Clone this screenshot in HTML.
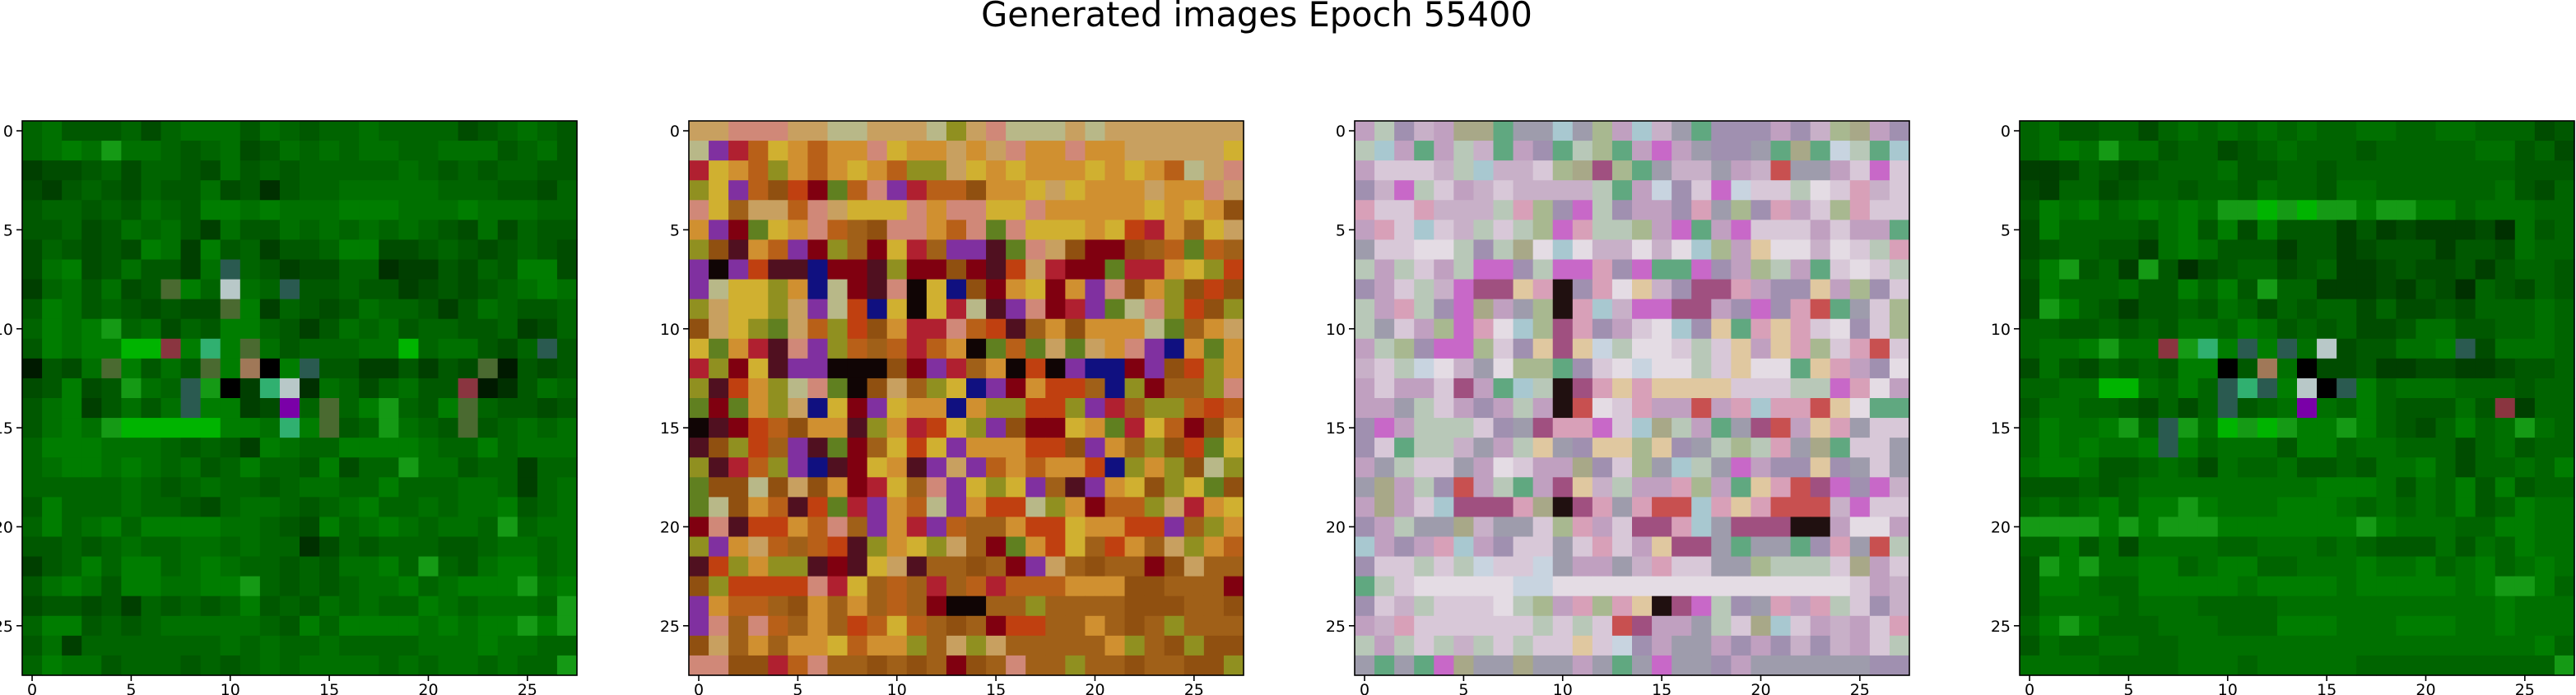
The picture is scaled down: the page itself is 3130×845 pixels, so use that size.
<!DOCTYPE html>
<html><head><meta charset="utf-8">
<style>
html,body{margin:0;padding:0;background:#fff;}
svg{display:block;}
text{font-family:"DejaVu Sans","Liberation Sans",sans-serif;}
</style></head>
<body>
<svg id="fig" width="3130" height="845" viewBox="0 0 3130 845" xmlns="http://www.w3.org/2000/svg">
<rect width="3130" height="845" fill="#fff"/>
<text x="1527" y="32" text-anchor="middle" font-size="41.5" fill="#000">Generated images Epoch 55400</text>
</svg>
<script>
// ---- data ----
const gridSize = 28;
const tickValues = [0, 5, 10, 15, 20, 25];
const tickLabels = ["0", "5", "10", "15", "20", "25"];
const panelNames = ["image-1", "image-2", "image-3", "image-4"];

const paletteGreen = {"0":"#001a00","1":"#003000","2":"#003f00","3":"#004c00","4":"#005800","5":"#006400","6":"#007000","7":"#007d00","8":"#159a15","9":"#00b400","k":"#000000","w":"#b8c8c8","p":"#7a00a8","r":"#8a3540","t":"#a07858","s":"#2a5a50","o":"#4a6a30","b":"#30b070"};
const image1 = [
"5644453566646545565555345654",
"5676866545634656566556664564",
"2334535543645455555654545544",
"3245435446341455666665554435",
"4554546547767666777666766655",
"4453465642644656565654363544",
"3543437627452445773345434543",
"3673464426s542335512243547734",
"2564634o75w65s445442343456765",
"4764543433o725434655424654456",
"5767856354775424656455445235",
"4767799r7b7o64555669566435s42",
"0436o7464o7tk7s44224243o0434",
"34734865s8k2bw16535644r014654",
"46724646s7723p5o578547o54434",
"4676899999776b7o458654o4565653",
"5777666545427655777765575666",
"5677676564575547355866455255",
"5555565456554566557555665256",
"4755565543566545675565667456",
"5756757777665437567656658566",
"4454565566565513545554456656",
"2457577567655454667585467756",
"4676477667785454566756777867",
"3443425454574546565576566658",
"5774545666665475777767677878",
"4625555555656556555566676655",
"5766455545456566665656656558"
];

const paletteWarm = {"a":"#c8a060","b":"#d09030","c":"#b86018","d":"#d0b030","e":"#b02030","f":"#501020","g":"#101080","h":"#100505","i":"#909020","j":"#d08878","k":"#8030a0","l":"#905010","m":"#800010","n":"#b8b888","o":"#608020","q":"#a06018","r":"#c04010"};
const image2 = [
"aajjjaannaaaniajnnnanaaaaaaa",
"nkecdbcbbjdbbabajbbjbbaaaaad",
"edbcibcbdbciiadbdbbbdbdbcnaj",
"idkclrmocjkecclbbdadbbbabbja",
"jdqaacjadddjbjjddjbbbbbdbdbl",
"bkmodbjcqljjbcjojdddbdrebqda",
"ilfbckmiqmdeqkkfojalmmlqcocq",
"khkrffgmmfimmlmsraemmoeebdir",
"knddibgnmsjhdglmbdmbkjlbilrl",
"iaddiaknrgdhdenskjmekonjirl",
"ladioacirlbeejcrsqblbbbnoqba",
"dobefjkicqcecbhocoaoabjkgbob",
"eimdfkkhhhlmkeqbhrhkggmklrib",
"ifrbinjohlaqidgkmbrrqgimqqij",
"omobiagdmkdbbgbiirrikeqiicrc",
"hfmrclbbfiberdiklmmdboedcmlb",
"slirqkfomqdrdkbbbrrlkbqilrod",
"ifecikgfmdbfkakcbcbbrgibilni",
"ollnlalbmedqjkdidkqfkbdlid",
"onlbcfroekbcnkbrrnibmcciaebd",
"mjfrrbcjqkbekcqqbrrdbbrrkqib",
"ikbacqcrfibdiaqmobrdqrbqaibc",
"sribiifmfdafqqlqmkaqlqqmlaqq",
"lirrrrjedqcqeqcecccbbbllqqqm",
"kbccqlbqbqcqmhhqqiqqqqlllqql",
"kjqjcqbqrcdcqlqmrrqqbqlqiqqq",
"laqbqbbdcbbiqaiaqqqqqbiqlill",
"jjllecjqqlqlqmlqjqqiqqlqqlli"
];

const palettePastel = {"a":"#c8b0c8","b":"#d8c8d8","c":"#b8c8b8","d":"#c0a0c0","e":"#e4dce4","f":"#a090b0","g":"#d8a0b8","h":"#c868c8","i":"#a8c8d0","j":"#9e9cac","k":"#a8b890","l":"#a05080","m":"#e0c8a0","n":"#201010","o":"#c8d4e0","r":"#c85050","s":"#60a880","t":"#a8a888"};
const image3 = [
"dcfadttsjjijkdiajsfffdfaktdf",
"cidsdcasdfscksdhdjffjstsocsi",
"dbbbaciaabktlksjaajdarjjdbhbf",
"fahcbdabaaaacsdofbhobbcebgabh",
"gbbgaaacgkfhcfddfgjkfgdbkgbbk",
"dgbibacbckhgcckdhsdhbbbdbdds",
"jbbeecfcteieaaeaeikdmeeaebcg",
"cdcbdchhfchhgfhsshfdkcdsbebc",
"fdbcahllmgnfgemafllgdffmdkfbcm",
"cdgcfhtdjkngiahhlldfhfgrsjbkf",
"cjbdkhgeiklgfdbeifmsgmgbefbk",
"dckfhhkbfmlmoceebcbmdmgkbgrb",
"abcoeajekksfbeoeecbmeesmgdfeaf",
"dbddbldsicnlgmgmmmmbbbcchgedj",
"ddjcbdfdcdnrebgddrdgiggrmessb",
"fhdcccbfjlgghbitcdsjlrdmgjbbk",
"fbsccajdcmjfmmkmfjckcgjtsbbj",
"djcbbjdebddtfbkjicjhdffmfjbji",
"jtdcfrdcsdlmacddgkdsmgrlhfhak",
"dtdbilllgtnlgjgrrigmgrrrahbbb",
"fdcjjtajjbkgdbllgijlllnndeed",
"idfdgidfbbjbgbdmlljsjjsfgjrc",
"fbbcbcobbojddjagbbjjkcccbtdbb",
"scbeeeeeooeeeeeeeeeeeeeeebda",
"fbacbbbeckdgkgmnlhcfjgdgcbfah",
"dagbbbbbbcbcbrlddjcbtibdadbgd",
"cdcbcacbcbbmbofdjjdfdfafadbcd",
"jsjshtjjtjjdjsjhjjfdjjjjjjff"
];

const image4 = [
"5644553565656565566556655534",
"5676866455345655545555566453",
"2235434555644554555555555444",
"3255345545546554665555556435",
"4767567676889898878877566655",
"3755554674737444242322231645",
"3455442676444244234442443655",
"4784528413455345223433424554",
"3755564475748552223243154354",
"3875424454653545535334355565",
"5544545466576454533466445565",
"5667866r8b7s7s6w344667s36665",
"3643545477k4t6k3342233223445",
"5566996575sbs7wks756665554",
"4665543535s456p657544464r255",
"5766785s8698987787543575686",
"5767667s7566647756655535645",
"6776445653655644546675355657",
"4445456666666667776465747455",
"5656757787666777656565745766",
"8888787888777777787666557766",
"5574636666556665654446465766",
"4878667756775566676675675676",
"4776557777767777677777678875",
"4666656665555666666666667666",
"5787555666555777666777667666",
"4655665566666666666666666675",
"6666555566656666655555555558"
];

// ---- layout / axis functions ----
const svg = document.getElementById('fig');
const NS = 'http://www.w3.org/2000/svg';
const panelLeft = [27, 837, 1646, 2454];
const axTop = 147, axSize = 674;
const cell = axSize / gridSize;
function xScale(p, v){ return panelLeft[p] + (v + 0.5) * cell; }
function yScale(v){ return axTop + (v + 0.5) * cell; }

const images = [image1, image2, image3, image4];
const palettes = [paletteGreen, paletteWarm, palettePastel, paletteGreen];

images.forEach(function(img, p){
  const g = document.createElementNS(NS, 'g');
  
  
  svg.appendChild(g);
  const pal = palettes[p];
  for (let r = 0; r < gridSize; r++){
    const row = img[r];
    for (let c = 0; c < gridSize; c++){
      const ch = row.charAt(c % row.length);
      const col = pal[ch] || pal[Object.keys(pal)[5]];
      const rect = document.createElementNS(NS, 'rect');
      rect.setAttribute('x', (xScale(p, c) - cell/2).toFixed(2));
      rect.setAttribute('y', (yScale(r) - cell/2).toFixed(2));
      rect.setAttribute('width', (cell + 0.6).toFixed(2));
      rect.setAttribute('height', (cell + 0.6).toFixed(2));
      rect.setAttribute('fill', col);
      
      
      g.appendChild(rect);
    }
  }
  const frame = document.createElementNS(NS, 'rect');
  frame.setAttribute('x', panelLeft[p]);
  frame.setAttribute('y', axTop);
  frame.setAttribute('width', axSize);
  frame.setAttribute('height', axSize);
  frame.setAttribute('fill', 'none');
  frame.setAttribute('stroke', '#000');
  frame.setAttribute('stroke-width', '1.6');
  
  
  svg.appendChild(frame);

  tickValues.forEach(function(t, i){
    const x = xScale(p, t), y = yScale(t);
    const xt = document.createElementNS(NS, 'line');
    xt.setAttribute('x1', x); xt.setAttribute('x2', x);
    xt.setAttribute('y1', axTop + axSize); xt.setAttribute('y2', axTop + axSize + 7);
    xt.setAttribute('stroke', '#000'); xt.setAttribute('stroke-width', '1.6');
    
    
    svg.appendChild(xt);
    const xl = document.createElementNS(NS, 'text');
    xl.setAttribute('x', x); xl.setAttribute('y', axTop + axSize + 24);
    xl.setAttribute('text-anchor', 'middle'); xl.setAttribute('font-size', '19');
    xl.textContent = tickLabels[i];
    
    
    svg.appendChild(xl);
    const yt = document.createElementNS(NS, 'line');
    yt.setAttribute('x1', panelLeft[p] - 7); yt.setAttribute('x2', panelLeft[p]);
    yt.setAttribute('y1', y); yt.setAttribute('y2', y);
    yt.setAttribute('stroke', '#000'); yt.setAttribute('stroke-width', '1.6');
    
    
    svg.appendChild(yt);
    const yl = document.createElementNS(NS, 'text');
    yl.setAttribute('x', panelLeft[p] - 11); yl.setAttribute('y', y + 7);
    yl.setAttribute('text-anchor', 'end'); yl.setAttribute('font-size', '19');
    yl.textContent = tickLabels[i];
    
    
    svg.appendChild(yl);
  });
});
</script>
</body></html>
